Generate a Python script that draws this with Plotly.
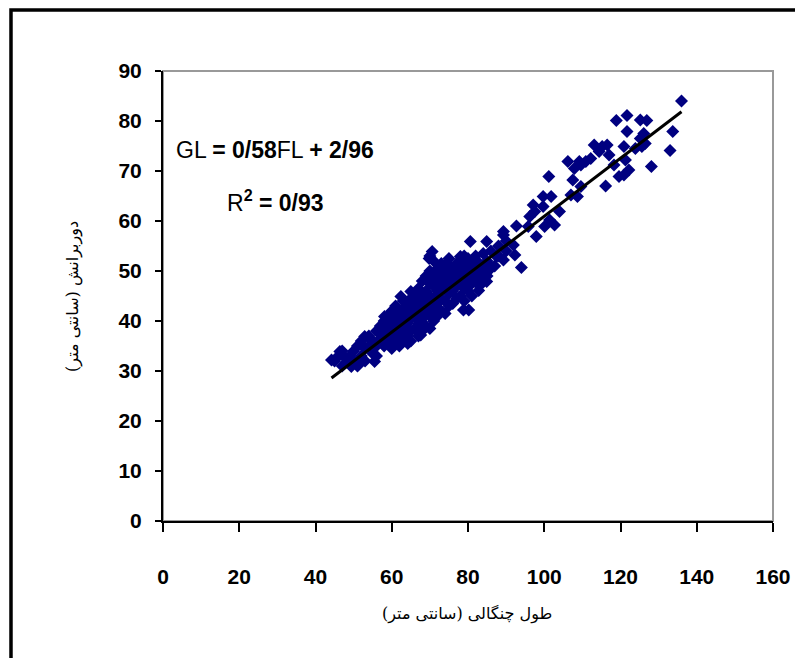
import plotly.graph_objects as go

# Fork length (FL, cm) and girth length (GL, cm)
fl = [136.0, 118.9, 121.7, 125.2, 126.9, 121.7, 133.7, 133.0, 128.1, 116.1, 120.9, 119.6,
      122.2, 125.6, 126.5, 123.9, 125.2, 126.1, 121.3, 118.3, 120.9, 117.0, 114.4, 113.1,
      115.2, 116.5, 112.2, 110.9, 109.2, 107.9, 106.2, 109.6, 101.2, 107.5, 109.6, 108.7,
      107.0, 99.7, 101.8, 99.7, 97.1, 97.5, 96.2, 104.0, 101.4, 102.7, 100.1, 97.9, 95.8,
      92.7, 89.3, 91.9, 89.3, 92.3, 94.0, 89.3, 87.5, 84.9, 80.6, 70.6, 69.8, 84.9, 82.8,
      80.2, 78.8, 67.6, 64.2, 44.2, 46.4, 51.2, 49.4, 55.5, 52.9, 58.1, 62.4, 65.0, 71.1,
      74.5, 78.0, 82.3, 85.8,
      45, 46, 47, 47, 48, 49, 49, 50, 50, 51, 51, 52, 52, 53, 53, 54, 54, 55, 55, 56, 56, 56,
      57, 57, 58, 58, 58, 59, 59, 59, 60, 60, 60, 60, 61, 61, 61, 61, 62, 62, 62, 62,
      63, 63, 63, 63, 63, 64, 64, 64, 64, 65, 65, 65, 65, 65, 66, 66, 66, 66,
      67, 67, 67, 67, 67, 68, 68, 68, 68, 68, 69, 69, 69, 69, 69,
      70, 70, 70, 70, 70, 70, 70, 71, 71, 71, 71, 71, 71, 72, 72, 72, 72, 72,
      73, 73, 73, 73, 73, 74, 74, 74, 74, 74, 75, 75, 75, 75, 75, 76, 76, 76, 76,
      77, 77, 77, 77, 78, 78, 78, 78, 79, 79, 79, 79, 79, 80, 80, 80, 80,
      81, 81, 81, 81, 82, 82, 82, 83, 83, 83, 84, 84, 84, 85, 85, 86, 86, 87, 88, 88, 90, 90]
gl = [84.0, 80.1, 81.1, 80.2, 80.1, 77.9, 77.9, 74.1, 70.9, 67.0, 69.2, 68.9,
      70.2, 74.9, 75.5, 74.5, 76.5, 77.5, 72.2, 71.2, 74.9, 73.2, 73.9, 75.2,
      74.9, 75.2, 72.5, 71.9, 71.9, 70.5, 71.9, 71.2, 68.9, 68.2, 66.9, 64.9,
      65.2, 64.9, 64.9, 62.9, 63.2, 61.9, 60.9, 61.9, 60.2, 59.2, 58.9, 56.9, 58.9,
      59.0, 57.9, 55.2, 57.2, 53.2, 50.7, 52.2, 52.9, 55.9, 55.9, 53.9, 52.5, 47.9, 46.1,
      42.2, 42.2, 37.2, 35.5, 32.2, 33.9, 31.2, 30.9, 31.9, 36.9, 40.9, 44.9, 45.9, 48.9,
      51.5, 52.9, 51.9, 50.9,
      32, 33, 31, 34, 32.5, 33, 31.5, 34, 32, 31, 35, 33, 36, 34.5, 32, 35, 37, 33.5, 36, 35, 38, 33,
      36.5, 39, 35, 37.5, 40, 36, 38.5, 41, 34.5, 37, 39.5, 42, 36, 38, 40.5, 43, 35, 37.5, 39, 41.5,
      36.5, 38.5, 40, 42.5, 44, 37, 39.5, 41, 43, 36, 38, 40.5, 42, 44.5, 38.5, 41, 43.5, 45,
      37, 39.5, 42, 44, 46.5, 38, 40.5, 43, 45.5, 48, 39, 41.5, 44, 46, 49,
      38.5, 41, 43, 45, 47.5, 50, 53, 40, 42.5, 44.5, 47, 49.5, 52, 41, 43.5, 46, 48, 50.5,
      42, 44.5, 47, 49.5, 51.5, 41.5, 44, 46.5, 48.5, 51, 43, 45.5, 47.5, 50, 52.5, 43.5, 46, 48.5, 50.5,
      44.5, 47, 49, 51.5, 45, 47.5, 50, 52, 44, 46.5, 49, 51, 53, 46, 48, 50.5, 52.5,
      45, 47.5, 49.5, 51.5, 48, 50, 53, 47, 49.5, 51.5, 48.5, 50.5, 53.5, 49, 52, 50.5, 54, 51, 53, 55, 54, 56]

slope = 0.58
intercept = 2.96
x_ticks = [0, 20, 40, 60, 80, 100, 120, 140, 160]
y_ticks = [0, 10, 20, 30, 40, 50, 60, 70, 80, 90]
equation_text = "GL <b>= 0/58</b>FL <b>+ 2/96</b>"
r2_text = "R<sup><b>2</b></sup><b> = 0/93</b>"
x_title = "طول چنگالی (سانتی متر)"
y_title = "دوربرانش (سانتی متر)"

x_line = [min(fl), max(fl)]
y_line = [slope * v + intercept for v in x_line]

# page-pixel helpers (plot area in page: x 163..779, y 71..521)
def px(xp):
    return (xp - 163) / 616

def py(yp):
    return (521 - yp) / 450

fig = go.Figure()
fig.add_trace(go.Scatter(x=fl, y=gl, mode="markers",
                         marker=dict(symbol="diamond", size=10, color="#000080",
                                     line=dict(width=0)),
                         showlegend=False, hoverinfo="x+y"))
fig.add_trace(go.Scatter(x=x_line, y=y_line, mode="lines",
                         line=dict(color="black", width=3), showlegend=False))

tick_font = dict(family="Liberation Sans, Arial", size=21, color="black")

fig.update_layout(
    width=795, height=650,
    margin=dict(l=155, r=24, t=63, b=137),
    paper_bgcolor="white", plot_bgcolor="white",
    xaxis=dict(range=[0, 160], tickvals=x_ticks,
               ticktext=[f"<b>{v}</b>" for v in x_ticks],
               showgrid=False, zeroline=False,
               showline=True, linecolor="black", linewidth=2,
               ticks="outside", ticklen=9, tickwidth=2, tickcolor="black",
               tickfont=tick_font, ticklabelstandoff=27),
    yaxis=dict(range=[0, 90], tickvals=y_ticks,
               ticktext=[f"<b>{v}</b>" for v in y_ticks],
               showgrid=False, zeroline=False,
               showline=True, linecolor="black", linewidth=2,
               ticks="outside", ticklen=6, tickwidth=2, tickcolor="black",
               tickfont=tick_font, ticklabelstandoff=9),
    shapes=[
        dict(type="rect", xref="paper", yref="paper", x0=0, x1=1, y0=0, y1=1,
             line=dict(color="#999999", width=2), layer="below"),
        dict(type="rect", xref="paper", yref="paper",
             x0=px(9.5), x1=px(830), y0=py(690), y1=py(10),
             line=dict(color="black", width=3.5), layer="below"),
    ],
    annotations=[
        dict(text=equation_text, xref="paper", yref="paper",
             x=px(276), y=py(150), xanchor="center", yanchor="middle", showarrow=False,
             font=dict(family="Liberation Sans, Arial", size=23, color="black")),
        dict(text=r2_text, xref="paper", yref="paper",
             x=px(277), y=py(201), xanchor="center", yanchor="middle", showarrow=False,
             font=dict(family="Liberation Sans, Arial", size=23, color="black")),
        dict(text=x_title, xref="paper", yref="paper",
             x=px(470), y=py(614), xanchor="center", yanchor="middle", showarrow=False,
             font=dict(family="DejaVu Serif, DejaVu Sans", size=16, color="black")),
        dict(text=y_title, xref="paper", yref="paper",
             x=px(72), y=py(296), xanchor="center", yanchor="middle", showarrow=False,
             textangle=-90,
             font=dict(family="DejaVu Serif, DejaVu Sans", size=16, color="black")),
    ],
)

fig.write_html("out.html")
